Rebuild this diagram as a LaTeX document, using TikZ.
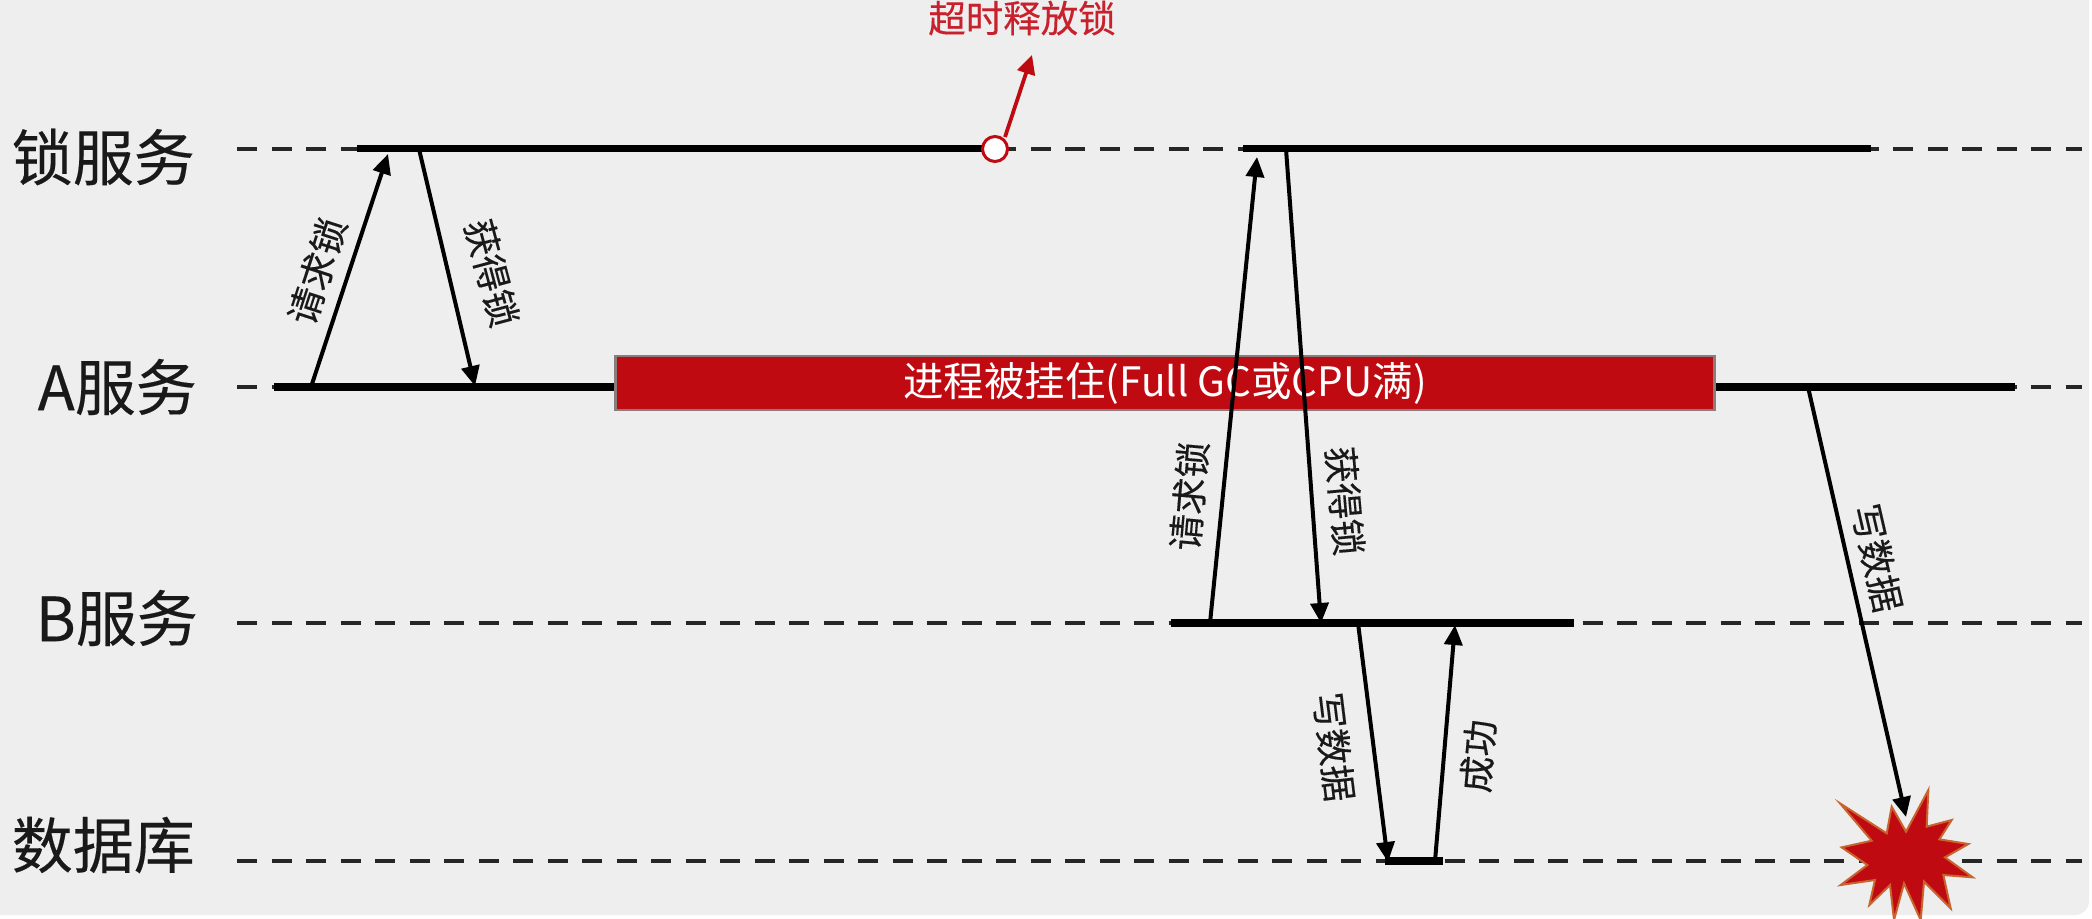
\documentclass[tikz,border=0pt]{standalone}
\usepackage{fontspec}
\setmainfont{Noto Sans CJK SC}
\newfontfamily\heavycjk[FakeBold=0.25]{Noto Sans CJK SC}
\usetikzlibrary{arrows.meta}
\definecolor{bg}{HTML}{EEEEEE}
\definecolor{barred}{HTML}{BF0A12}
\definecolor{textred}{HTML}{C8202C}
\definecolor{burstedge}{HTML}{C8652F}
\tikzset{
  x=1pt,y=-1pt,
  lifeline/.style={line width=4pt,black!85,dash pattern=on 20pt off 14.5pt},
  active/.style={line width=7.5pt,black},
  msg/.style={line width=4pt,black,-{Triangle[length=20pt,width=18pt]},shorten >=0pt},
  actor/.style={anchor=east,font=\heavycjk\fontsize{61}{64}\selectfont,inner sep=0pt,text=black!90},
  msglabel/.style={font=\heavycjk\fontsize{36.5}{40}\selectfont,inner sep=0pt,text=black!90},
}
\begin{document}
\begin{tikzpicture}
\useasboundingbox (0,0) rectangle (2092,918);
\fill[white] (0,0) rectangle (2092,918);
\fill[bg,rounded corners=14pt] (-30,-30) rectangle (2089,915);

% actors
\node[actor] (lockT) at (195,157) {锁服务};
\node[actor] (aT) at (197,387) {A服务};
\node[actor] (bT) at (198,618) {B服务};
\node[actor] (dbT) at (195,845) {数据库};

% line ends
\coordinate (L0) at (237,148.5); \coordinate (L1) at (2082,148.5);
\coordinate (A0) at (237,387);   \coordinate (A1) at (2082,387);
\coordinate (B0) at (237,623);   \coordinate (B1) at (2082,623);
\coordinate (D0) at (237,861);   \coordinate (D1) at (2082,861);
\draw[lifeline] (L0) -- (L1);
\draw[lifeline] (A0) -- (A1);
\draw[lifeline] (B0) -- (B1);
\draw[lifeline] (D0) -- (D1);

\coordinate (La) at (357,148.5); \coordinate (Lb) at (985,148.5);
\coordinate (Lc) at (1243,148.5); \coordinate (Ld) at (1871,148.5);
\coordinate (Aa) at (274,387); \coordinate (Ab) at (2015,387);
\coordinate (Ba) at (1171,623); \coordinate (Bb) at (1574,623);
\coordinate (Da) at (1385,861); \coordinate (Db) at (1443,861);
\draw[active] (La) -- (Lb);
\draw[active] (Lc) -- (Ld);
\draw[active] (Aa) -- (Ab);
\draw[active] (Ba) -- (Bb);
\draw[active] (Da) -- (Db);

% hung process bar
\node[draw={rgb,255:red,140;green,125;blue,125},line width=2.5pt,fill=barred,text=white,
  minimum width=1099pt,minimum height=54pt,inner sep=0pt,font=\fontsize{40.5}{44}\selectfont] (bar) at (1165,383)
  {\raisebox{-4pt}{进程被挂住(Full GC或CPU满)}};

% message ends
\coordinate (m1a) at (311,387);  \coordinate (m1b) at (388,154);
\coordinate (m2a) at (419,149);  \coordinate (m2b) at (475,386);
\coordinate (m3a) at (1210,623); \coordinate (m3b) at (1257,157);
\coordinate (m4a) at (1286,149); \coordinate (m4b) at (1321,623);
\coordinate (m5a) at (1808,387); \coordinate (m5b) at (1906,817);
\coordinate (m6a) at (1358,623); \coordinate (m6b) at (1388,862);
\coordinate (m7a) at (1435,861); \coordinate (m7b) at (1455,625);
\draw[msg] (m1a) -- (m1b);
\draw[msg] (m2a) -- (m2b);
\draw[msg] (m3a) -- (m3b);
\draw[msg] (m4a) -- (m4b);
\draw[msg] (m5a) -- (m5b);
\draw[msg] (m6a) -- (m6b);
\draw[msg] (m7a) -- (m7b);

% message labels
\node[msglabel,rotate=72] (t1) at (317,271) {请求锁};
\node[msglabel,rotate=-75] (t2) at (492,273) {获得锁};
\node[msglabel,rotate=85] (t3) at (1189,496) {请求锁};
\node[msglabel,rotate=-85] (t4) at (1345,501) {获得锁};
\node[msglabel,rotate=-77] (t5) at (1877,558) {写数据};
\node[msglabel,rotate=-83] (t6) at (1334,747) {写数据};
\node[msglabel,rotate=85] (t7) at (1478,756) {成功};

% timeout release
\node[circle,draw=barred,fill=white,line width=3pt,minimum size=25pt,inner sep=0pt] (rel) at (995,149) {};
\coordinate (relTip) at (1032,55);
\draw[line width=3.8pt,barred,-{Triangle[length=19pt,width=18pt]}] (1005,137) -- (relTip);
\node[font=\heavycjk\fontsize{37.5}{40}\selectfont,text=textred,inner sep=0pt] (relT) at (1022,18) {超时释放锁};

% burst
\begin{scope}[shift={(1780,770)},xscale=1/3,yscale=1/3]
\fill[barred,draw=burstedge,line width=2pt]
 (180,100)--(320,190)--(335,110)--(378,185)--(445,60)--(440,170)--(515,150)--(478,208)--
 (565,222)--(495,262)--(578,322)--(490,315)--(512,415)--(432,335)--(422,450)--(372,340)--
 (342,450)--(330,345)--(268,405)--(285,330)--(182,345)--(262,285)--(185,232)--(275,212)--cycle;
\end{scope}
\end{tikzpicture}
\end{document}
